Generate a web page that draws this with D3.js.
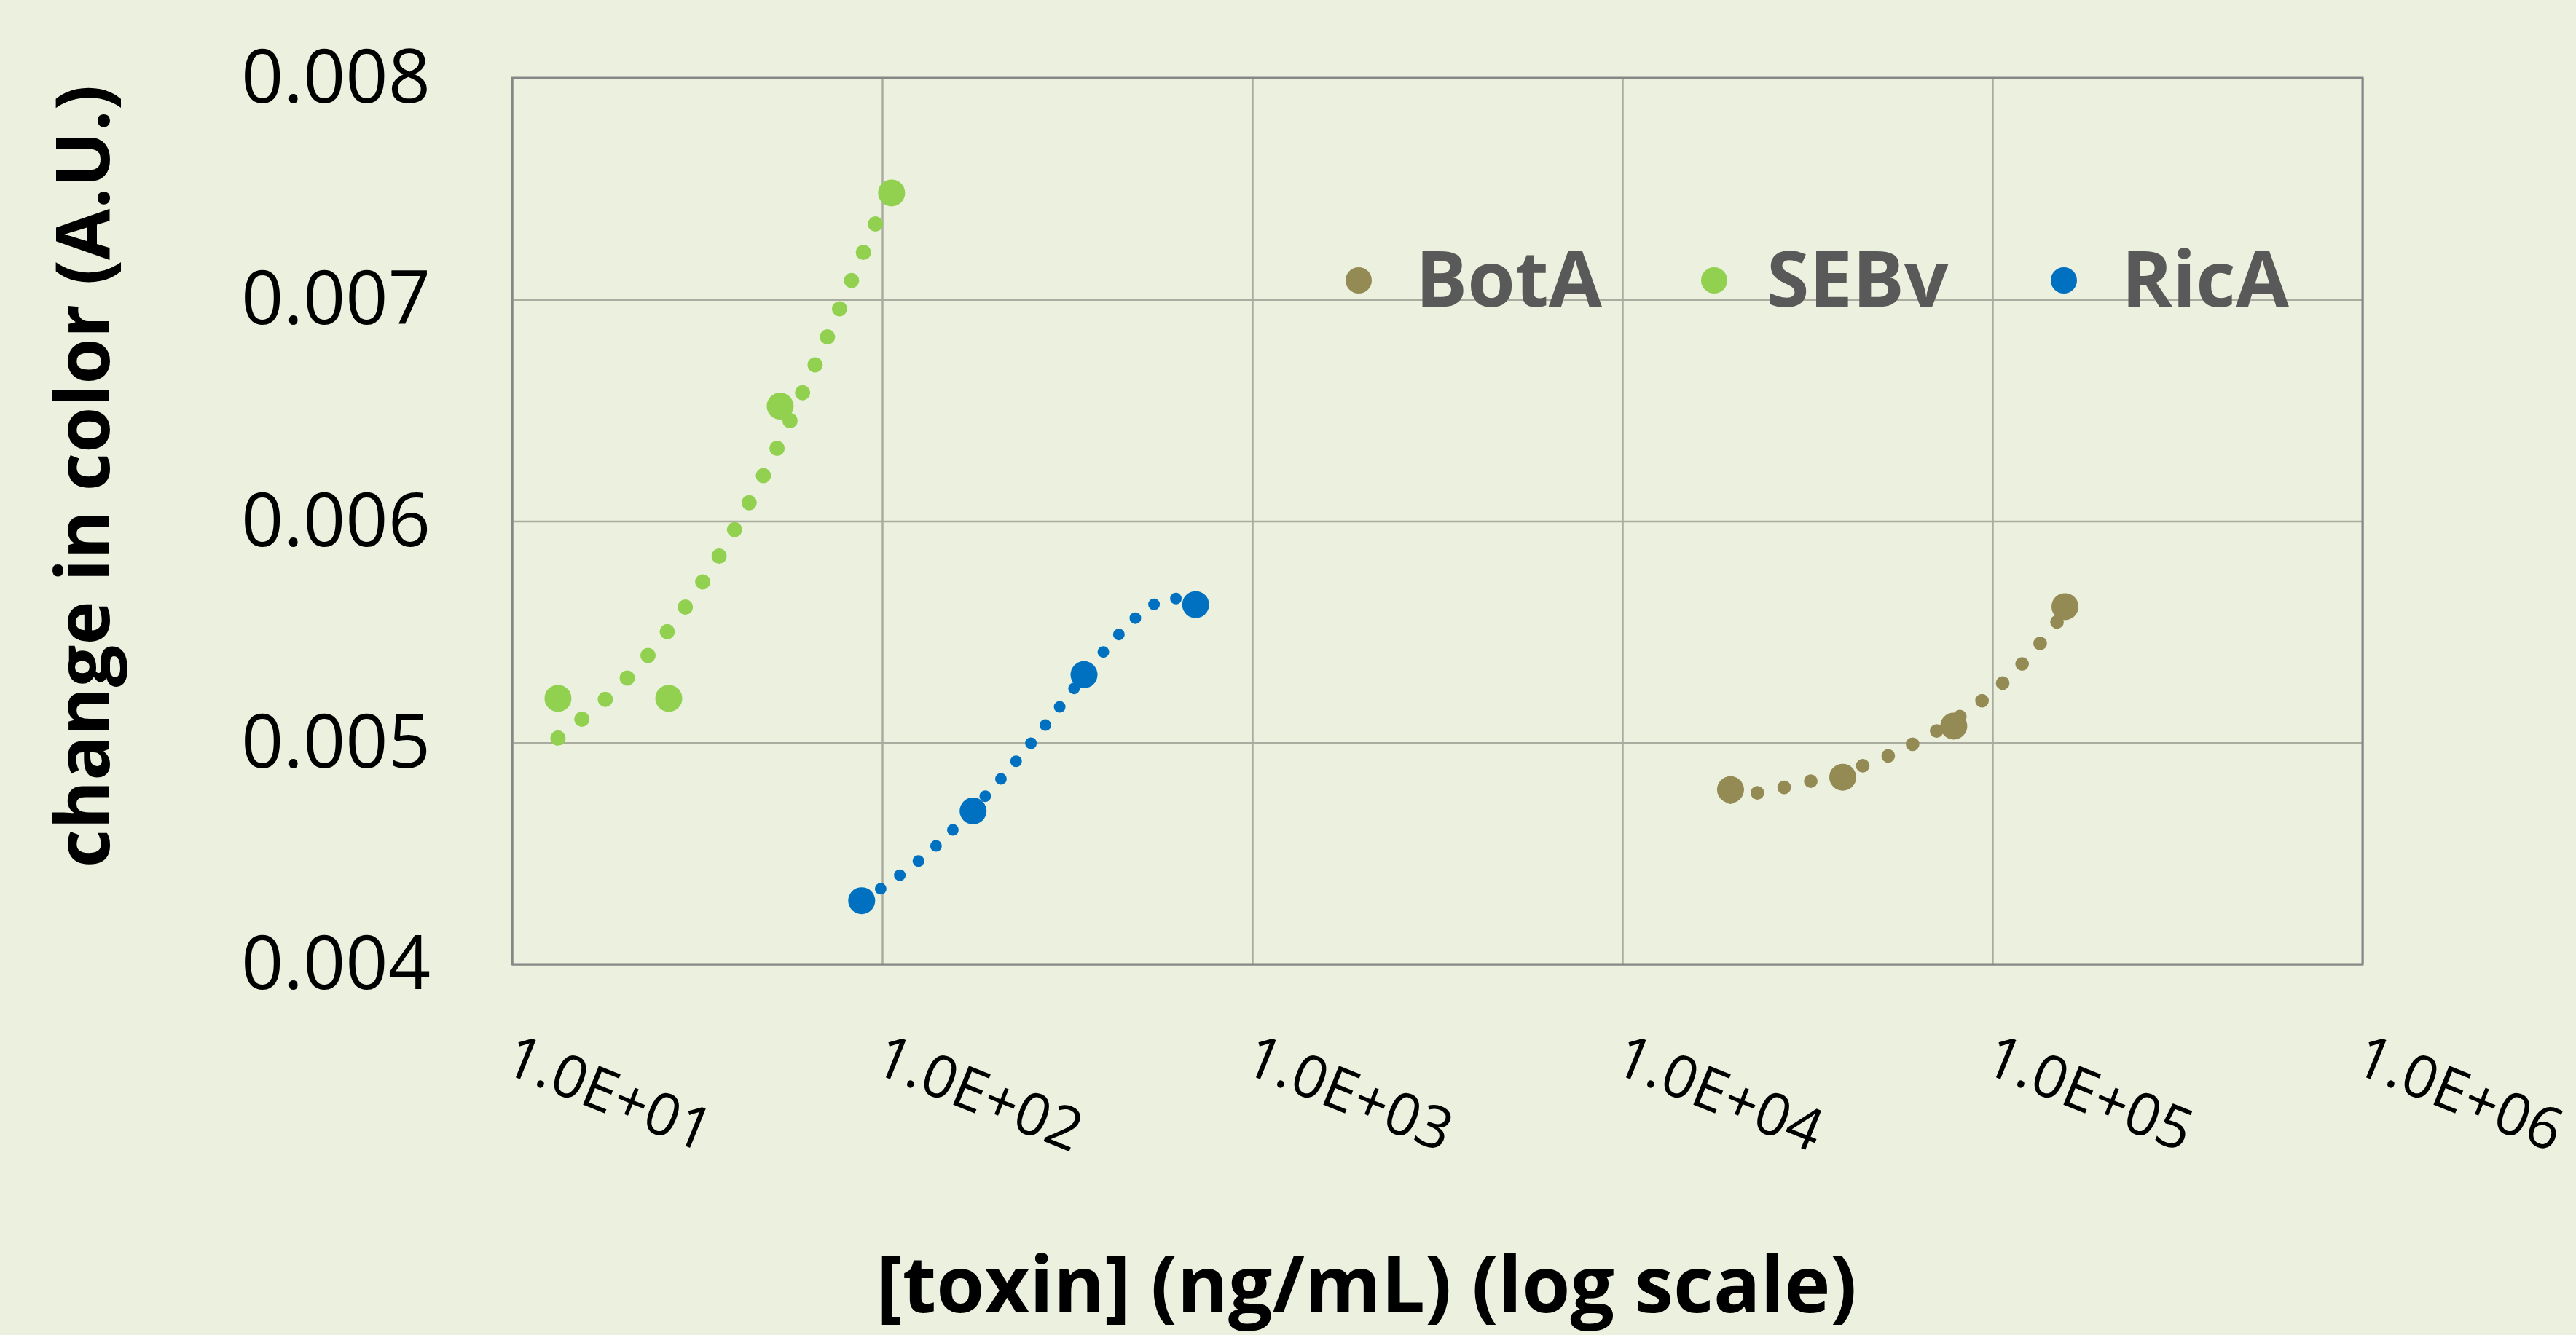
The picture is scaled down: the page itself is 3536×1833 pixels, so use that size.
<!DOCTYPE html>
<html>
<head>
<meta charset="utf-8">
<script src="https://cdn.jsdelivr.net/npm/d3@7"></script>
<style>
  body { margin: 0; background: #EBF1DE; }
  svg { display: block; }
  text { font-family: 'Open Sans', 'Liberation Sans', sans-serif; }
</style>
</head>
<body>
<div id="chart"></div>
<script>
// colour change vs toxin concentration (ng/mL), 2x dilution series
const botaConc = [19600, 39400, 78600, 157000];
const botaSignal = [0.004788, 0.004844, 0.005075, 0.005614];
const sebvConc = [13.3, 26.5, 53, 106];
const sebvSignal = [0.00520, 0.00520, 0.006519, 0.007481];
const ricaConc = [88, 176, 351, 703];
const ricaSignal = [0.004287, 0.004692, 0.005307, 0.005623];

// dotted trend lines
const botaTrendConc = [19600, 23070, 31565, 36780, 42925, 57630, 87270, 112620, 140800, 157000];
const botaTrendSignal = [0.004754, 0.004773, 0.004822, 0.004853, 0.004886, 0.004973, 0.005151, 0.005307, 0.005488, 0.005596];
const sebvTrendConc = [13.3, 17.8, 23.3, 29.4, 36.3, 43.9, 52.3, 61.4, 71.8, 83.6, 97.1, 106];
const sebvTrendSignal = [0.005021, 0.005194, 0.005394, 0.005613, 0.005844, 0.006089, 0.006338, 0.006592, 0.006847, 0.007106, 0.007362, 0.00750];
const ricaTrendConc = [88, 124, 153.8, 206.8, 249, 297.2, 388.3, 471.4, 526.8, 597, 703];
const ricaTrendSignal = [0.004281, 0.004460, 0.004600, 0.004827, 0.004986, 0.005148, 0.005393, 0.005546, 0.005611, 0.005653, 0.005623];

const seriesNames = ['BotA', 'SEBv', 'RicA'];
const xTickValues = [1e1, 1e2, 1e3, 1e4, 1e5, 1e6];
const xTickLabels = ['1.0E+01', '1.0E+02', '1.0E+03', '1.0E+04', '1.0E+05', '1.0E+06'];
const yTickValues = [0.004, 0.005, 0.006, 0.007, 0.008];
const yTickLabels = ['0.004', '0.005', '0.006', '0.007', '0.008'];

const width = 3536;
const height = 1833;
const margin = { top: 107, right: 293, bottom: 509, left: 703 };
const w = width - margin.left - margin.right;
const h = height - margin.top - margin.bottom;

const series = [
  { name: seriesNames[0], conc: botaConc, signal: botaSignal, tConc: botaTrendConc, tSignal: botaTrendSignal, color: '#948A54', dot: 18.7 },
  { name: seriesNames[1], conc: sebvConc, signal: sebvSignal, tConc: sebvTrendConc, tSignal: sebvTrendSignal, color: '#92D050', dot: 21 },
  { name: seriesNames[2], conc: ricaConc, signal: ricaSignal, tConc: ricaTrendConc, tSignal: ricaTrendSignal, color: '#0070C0', dot: 16 }
];

const svg = d3.select('#chart').append('svg')
  .attr('width', width)
  .attr('height', height);

svg.append('rect')
  .attr('width', width).attr('height', height)
  .attr('fill', '#EBF1DE');

const g = svg.append('g').attr('transform', 'translate(' + margin.left + ',' + margin.top + ')');

const x = d3.scaleLog().domain([10, 1e6]).range([0, w]);
const y = d3.scaleLinear().domain([0.004, 0.008]).range([h, 0]);

/* Grid lines */
g.append('g')
  .attr('class', 'grid-y')
  .call(d3.axisLeft(y).tickValues(yTickValues).tickSize(-w).tickFormat(''))
  .call(s => s.select('.domain').remove())
  .selectAll('line').attr('stroke', '#A9AC9F').attr('stroke-width', 2.5);

g.append('g')
  .attr('class', 'grid-x')
  .attr('transform', 'translate(0,' + h + ')')
  .call(d3.axisBottom(x).tickValues(xTickValues).tickSize(-h).tickFormat(''))
  .call(s => s.select('.domain').remove())
  .selectAll('line').attr('stroke', '#A9AC9F').attr('stroke-width', 2.5);

// plot border
g.append('rect')
  .attr('width', w).attr('height', h)
  .attr('fill', 'none')
  .attr('stroke', '#878787')
  .attr('stroke-width', 3);

/* Y axis labels */
g.append('g')
  .attr('class', 'y-axis')
  .call(d3.axisLeft(y).tickValues(yTickValues).tickSize(0).tickPadding(112)
    .tickFormat((d, i) => yTickLabels[i]))
  .call(s => s.select('.domain').remove())
  .selectAll('text')
  .attr('fill', '#000')
  .attr('dy', '0.33em')
  .style('font-size', '102px');

/* X axis labels, rotated */
g.append('g')
  .attr('class', 'x-axis')
  .attr('transform', 'translate(0,' + h + ')')
  .call(d3.axisBottom(x).tickValues(xTickValues).tickSize(0)
    .tickFormat((d, i) => xTickLabels[i]))
  .call(s => s.select('.domain').remove())
  .selectAll('text')
  .attr('fill', '#000')
  .attr('y', 0)
  .attr('dy', 0)
  .attr('text-anchor', 'start')
  .attr('transform', 'translate(-16,147) rotate(22)')
  .style('font-size', '81px');

/* Trend lines (round dots) */
const line = d3.line()
  .x(d => x(d[0]))
  .y(d => y(d[1]))
  .curve(d3.curveCatmullRom);

series.forEach(s => {
  g.append('path')
    .datum(s.tConc.map((c, i) => [c, s.tSignal[i]]))
    .attr('fill', 'none')
    .attr('stroke', s.color)
    .attr('stroke-width', s.dot)
    .attr('stroke-linecap', 'round')
    .attr('stroke-dasharray', '0 ' + (s.dot * 2))
    .attr('d', line);
});

/* Markers */
series.forEach(s => {
  g.append('g').selectAll('circle')
    .data(s.conc.map((c, i) => [c, s.signal[i]]))
    .enter().append('circle')
    .attr('cx', d => x(d[0]))
    .attr('cy', d => y(d[1]))
    .attr('r', 18.5)
    .attr('fill', s.color);
});

/* Legend */
const legendMarkX = [1865, 2353, 2833];
const legendTextX = [1943, 2425, 2912];
const legend = svg.append('g').attr('class', 'legend');
series.forEach((s, i) => {
  legend.append('circle')
    .attr('cx', legendMarkX[i]).attr('cy', 385)
    .attr('r', 18)
    .attr('fill', s.color);
  legend.append('text')
    .attr('x', legendTextX[i]).attr('y', 421)
    .attr('fill', '#595959')
    .style('font-size', '106px')
    .style('font-weight', 'bold')
    .text(s.name);
});

/* Axis titles */
svg.append('text')
  .attr('x', 1876).attr('y', 1802)
  .attr('text-anchor', 'middle')
  .style('font-size', '107px')
  .style('font-weight', 'bold')
  .text('[toxin] (ng/mL) (log scale)');

svg.append('text')
  .attr('transform', 'translate(150,654) rotate(-90)')
  .attr('text-anchor', 'middle')
  .style('font-size', '102px')
  .style('font-weight', 'bold')
  .text('change in color (A.U.)');
</script>
</body>
</html>
